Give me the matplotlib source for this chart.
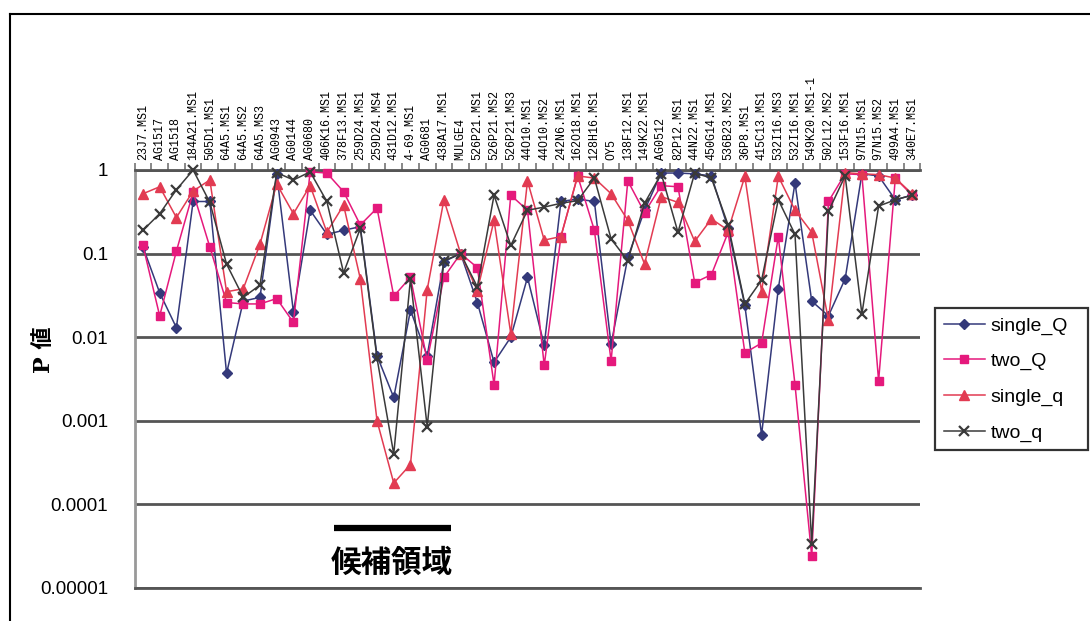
import numpy as np
import matplotlib
matplotlib.use("Agg")
import matplotlib.pyplot as plt
from matplotlib.lines import Line2D
from matplotlib.transforms import blended_transform_factory

# Marker names along the chromosome
markers = [
    "23J7.MS1", "AG1517", "AG1518", "184A21.MS1", "505D1.MS1", "64A5.MS1",
    "64A5.MS2", "64A5.MS3", "AG0943", "AG0144", "AG0680", "406K16.MS1",
    "378F13.MS1", "259D24.MS1", "259D24.MS4", "431D12.MS1", "4-69.MS1",
    "AG0681", "438A17.MS1", "MULGE4", "526P21.MS1", "526P21.MS2",
    "526P21.MS3", "44O10.MS1", "44O10.MS2", "242N6.MS1", "162O18.MS1",
    "128H16.MS1", "OY5", "138F12.MS1", "149K22.MS1", "AG0512", "82P12.MS1",
    "44N22.MS1", "450G14.MS1", "536B23.MS2", "36P8.MS1", "415C13.MS1",
    "532I16.MS3", "532I16.MS1", "549K20.MS1-1", "502L12.MS2", "153F16.MS1",
    "97N15.MS1", "97N15.MS2", "499A4.MS1", "340E7.MS1",
]

# P values per test
single_Q = [0.12, 0.034, 0.013, 0.42, 0.42, 0.0037, 0.027, 0.03, 0.9, 0.02,
            0.33, 0.17, 0.19, 0.21, 0.006, 0.0019, 0.021, 0.006, 0.08, 0.1,
            0.026, 0.005, 0.01, 0.052, 0.008, 0.42, 0.45, 0.42, 0.0082, 0.09,
            0.33, 0.92, 0.92, 0.9, 0.85, 0.2, 0.024, 0.00068, 0.038, 0.7,
            0.027, 0.018, 0.05, 0.9, 0.85, 0.44, 0.5]
two_Q = [0.125, 0.018, 0.107, 0.54, 0.12, 0.026, 0.025, 0.025, 0.029, 0.015,
         0.95, 0.92, 0.55, 0.22, 0.35, 0.031, 0.052, 0.0053, 0.052, 0.1,
         0.068, 0.0027, 0.5, 0.33, 0.0046, 0.16, 0.85, 0.19, 0.0052, 0.74,
         0.31, 0.65, 0.63, 0.045, 0.056, 0.18, 0.0065, 0.0085, 0.16, 0.0027,
         2.4e-5, 0.42, 0.9, 0.88, 0.003, 0.8, 0.5]
single_q = [0.52, 0.63, 0.27, 0.56, 0.76, 0.035, 0.038, 0.13, 0.68, 0.3,
            0.65, 0.18, 0.38, 0.05, 0.001, 0.00018, 0.0003, 0.037, 0.44, 0.1,
            0.036, 0.25, 0.011, 0.74, 0.145, 0.16, 0.85, 0.8, 0.52, 0.25,
            0.075, 0.48, 0.41, 0.14, 0.26, 0.19, 0.84, 0.035, 0.84, 0.33,
            0.18, 0.016, 0.93, 0.9, 0.88, 0.8, 0.52]
two_q = [0.19, 0.3, 0.58, 1.0, 0.41, 0.075, 0.03, 0.042, 0.93, 0.76,
         0.95, 0.42, 0.059, 0.2, 0.0056, 0.0004, 0.05, 0.00085, 0.082, 0.1,
         0.04, 0.5, 0.125, 0.33, 0.36, 0.4, 0.43, 0.8, 0.15, 0.082,
         0.4, 0.9, 0.18, 0.92, 0.8, 0.22, 0.025, 0.048, 0.44, 0.17,
         3.4e-5, 0.32, 0.85, 0.019, 0.37, 0.44, 0.5]

ytick_vals = [1, 0.1, 0.01, 0.001, 0.0001, 0.00001]
ytick_text = ["1", "0.1", "0.01", "0.001", "0.0001", "0.00001"]

# candidate region spans these markers
region_start, region_end = 11.4, 18.4
region_label = "候補領域"

W, H = 1090, 621
fig = plt.figure(figsize=(W / 100, H / 100), dpi=100)
fig.patch.set_facecolor("white")

ax = fig.add_axes([134.6 / W, 1 - 588 / H, 785.8 / W, 418 / H])
ax.set_yscale("log")
ax.set_ylim(1e-5, 1)
ax.set_xlim(-0.5, len(markers) - 0.5)

x = np.arange(len(markers))
series = [
    ("single_Q", single_Q, "#34397a", "D", 5.0, 1.0),
    ("two_Q", two_Q, "#e5197c", "s", 6.0, 1.0),
    ("single_q", single_q, "#e23b52", "^", 7.0, 1.0),
    ("two_q", two_q, "#3a3a3a", "x", 7.0, 1.6),
]
for name, vals, col, mk, ms, mew in series:
    ax.plot(x, vals, color=col, lw=1.1, marker=mk, ms=ms, mew=mew,
            mec=col, mfc=col, label=name, clip_on=False, zorder=3)

# value axis
ax.set_yticks(ytick_vals)
ax.set_yticklabels(ytick_text, fontsize=13.5, family=["Liberation Sans", "DejaVu Sans"])
ax.yaxis.set_minor_locator(matplotlib.ticker.NullLocator())
ax.tick_params(axis="y", length=0, pad=19)
ax.yaxis.grid(True, color="#555555", lw=2.0, zorder=1)

# category axis along the top
ax.xaxis.tick_top()
ax.set_xticks(x)
ax.set_xticklabels(markers, rotation=90, fontsize=8.4,
                   family=["Liberation Mono", "DejaVu Sans Mono"])
ax.tick_params(axis="x", which="major", length=0, pad=7)
ax.set_xticks(np.arange(-0.5, len(markers)), minor=True)
ax.tick_params(axis="x", which="minor", top=True, bottom=False, length=5,
               width=1.4, color="#888888", direction="out")

for side in ["top", "bottom"]:
    ax.spines[side].set_color("#555555")
    ax.spines[side].set_linewidth(2.0)
ax.spines["left"].set_color("#999999")
ax.spines["left"].set_linewidth(2.0)
ax.spines["right"].set_visible(False)

# y axis title
fig.text(44 / W, 1 - 350 / H, "P 値", rotation=90, ha="center", va="center",
         fontsize=16, fontweight="bold", family=["DejaVu Serif", "Noto Sans CJK JP"])

# candidate region marker
tr = blended_transform_factory(ax.transData, ax.transAxes)
ax.plot([region_start, region_end], [0.1435, 0.1435], color="black", lw=4.5,
        transform=tr, solid_capstyle="butt", clip_on=False)
ax.text((region_start + region_end) / 2, 0.06, region_label, transform=tr,
        ha="center", va="center", fontsize=22, fontweight="bold",
        family=["Noto Sans CJK JP", "DejaVu Sans"])

# legend
leg = ax.legend(loc="upper left",
                bbox_to_anchor=(935 / W, 1 - 456 / H, 153 / W, 148 / H),
                bbox_transform=fig.transFigure, mode="expand",
                frameon=True, fancybox=False,
                prop={"family": ["Liberation Sans", "DejaVu Sans"], "size": 14},
                handlelength=2.1, handletextpad=0.3, labelspacing=0.92,
                borderpad=0.45, borderaxespad=0)
leg.get_frame().set_edgecolor("black")
leg.get_frame().set_linewidth(1.6)

# outer chart frame
fig.add_artist(Line2D([10 / W, 1], [1 - 14 / H, 1 - 14 / H], color="black", lw=1.5,
                      transform=fig.transFigure))
fig.add_artist(Line2D([10 / W, 10 / W], [0, 1 - 14 / H], color="black", lw=1.5,
                      transform=fig.transFigure))

fig.savefig("out.png", dpi=100)
